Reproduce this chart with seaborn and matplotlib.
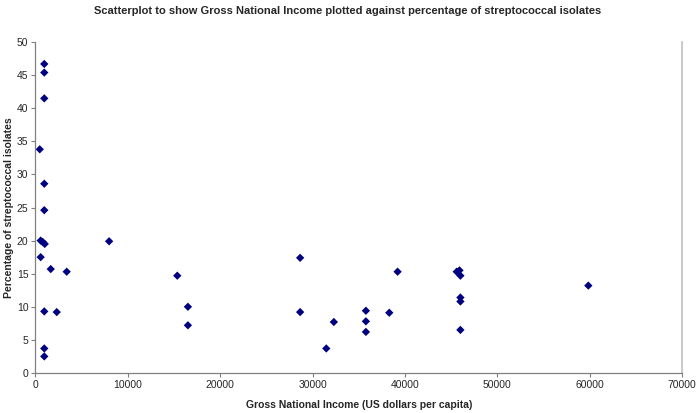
import matplotlib
matplotlib.use("Agg")
import matplotlib.pyplot as plt
import seaborn as sns
import pandas as pd

# Gross National Income (US$ per capita) vs % streptococcal isolates
gni = [950, 950, 950, 460, 950, 950, 560, 780, 1000, 560, 1650, 3380,
       950, 2300, 950, 950,
       7970, 15350, 16500, 16500,
       28650, 28650, 31480, 32300, 35770, 35770, 35770, 38300, 39200,
       45600, 45900, 46000, 46000, 46000, 46000, 59850]
strep = [46.7, 45.4, 41.5, 33.8, 28.6, 24.6, 20.0, 19.8, 19.5, 17.5, 15.7, 15.3,
         9.3, 9.2, 3.7, 2.5,
         19.9, 14.7, 10.0, 7.2,
         17.4, 9.2, 3.7, 7.7, 9.4, 7.8, 6.2, 9.1, 15.3,
         15.3, 15.5, 14.7, 11.4, 10.8, 6.5, 13.2]

df = pd.DataFrame({"gni": gni, "strep": strep})

sns.set_style("white")
plt.rcParams["font.family"] = ["Liberation Sans", "DejaVu Sans"]

fig = plt.figure(figsize=(6.96, 4.13), dpi=100)
ax = fig.add_axes([0.051, 0.097, 0.929, 0.801])

sns.scatterplot(data=df, x="gni", y="strep", marker="D", s=18,
                color="#000080", edgecolor="none", ax=ax)

ax.set_xlim(0, 70000)
ax.set_ylim(0, 50)
ax.set_xticks(range(0, 70001, 10000))
ax.set_yticks(range(0, 51, 5))
ax.tick_params(axis="both", labelsize=7.5, length=3, color="#808080",
               direction="out", bottom=True, left=True, pad=2)

ax.set_xlabel("Gross National Income (US dollars per capita)",
              fontsize=7.5, fontweight="bold", labelpad=7)
ax.set_ylabel("Percentage of streptococcal isolates",
              fontsize=7.5, fontweight="bold")
ax.yaxis.set_label_coords(-0.033, 0.5)

for side in ["left", "bottom"]:
    ax.spines[side].set_color("#808080")
    ax.spines[side].set_linewidth(0.9)
ax.spines["right"].set_color("#c0c0c0")
ax.spines["right"].set_linewidth(1.2)
ax.spines["top"].set_visible(False)

fig.suptitle("Scatterplot to show Gross National Income plotted against percentage of streptococcal isolates",
             fontsize=8, fontweight="bold", y=0.985)

fig.savefig("out.png", dpi=100)
